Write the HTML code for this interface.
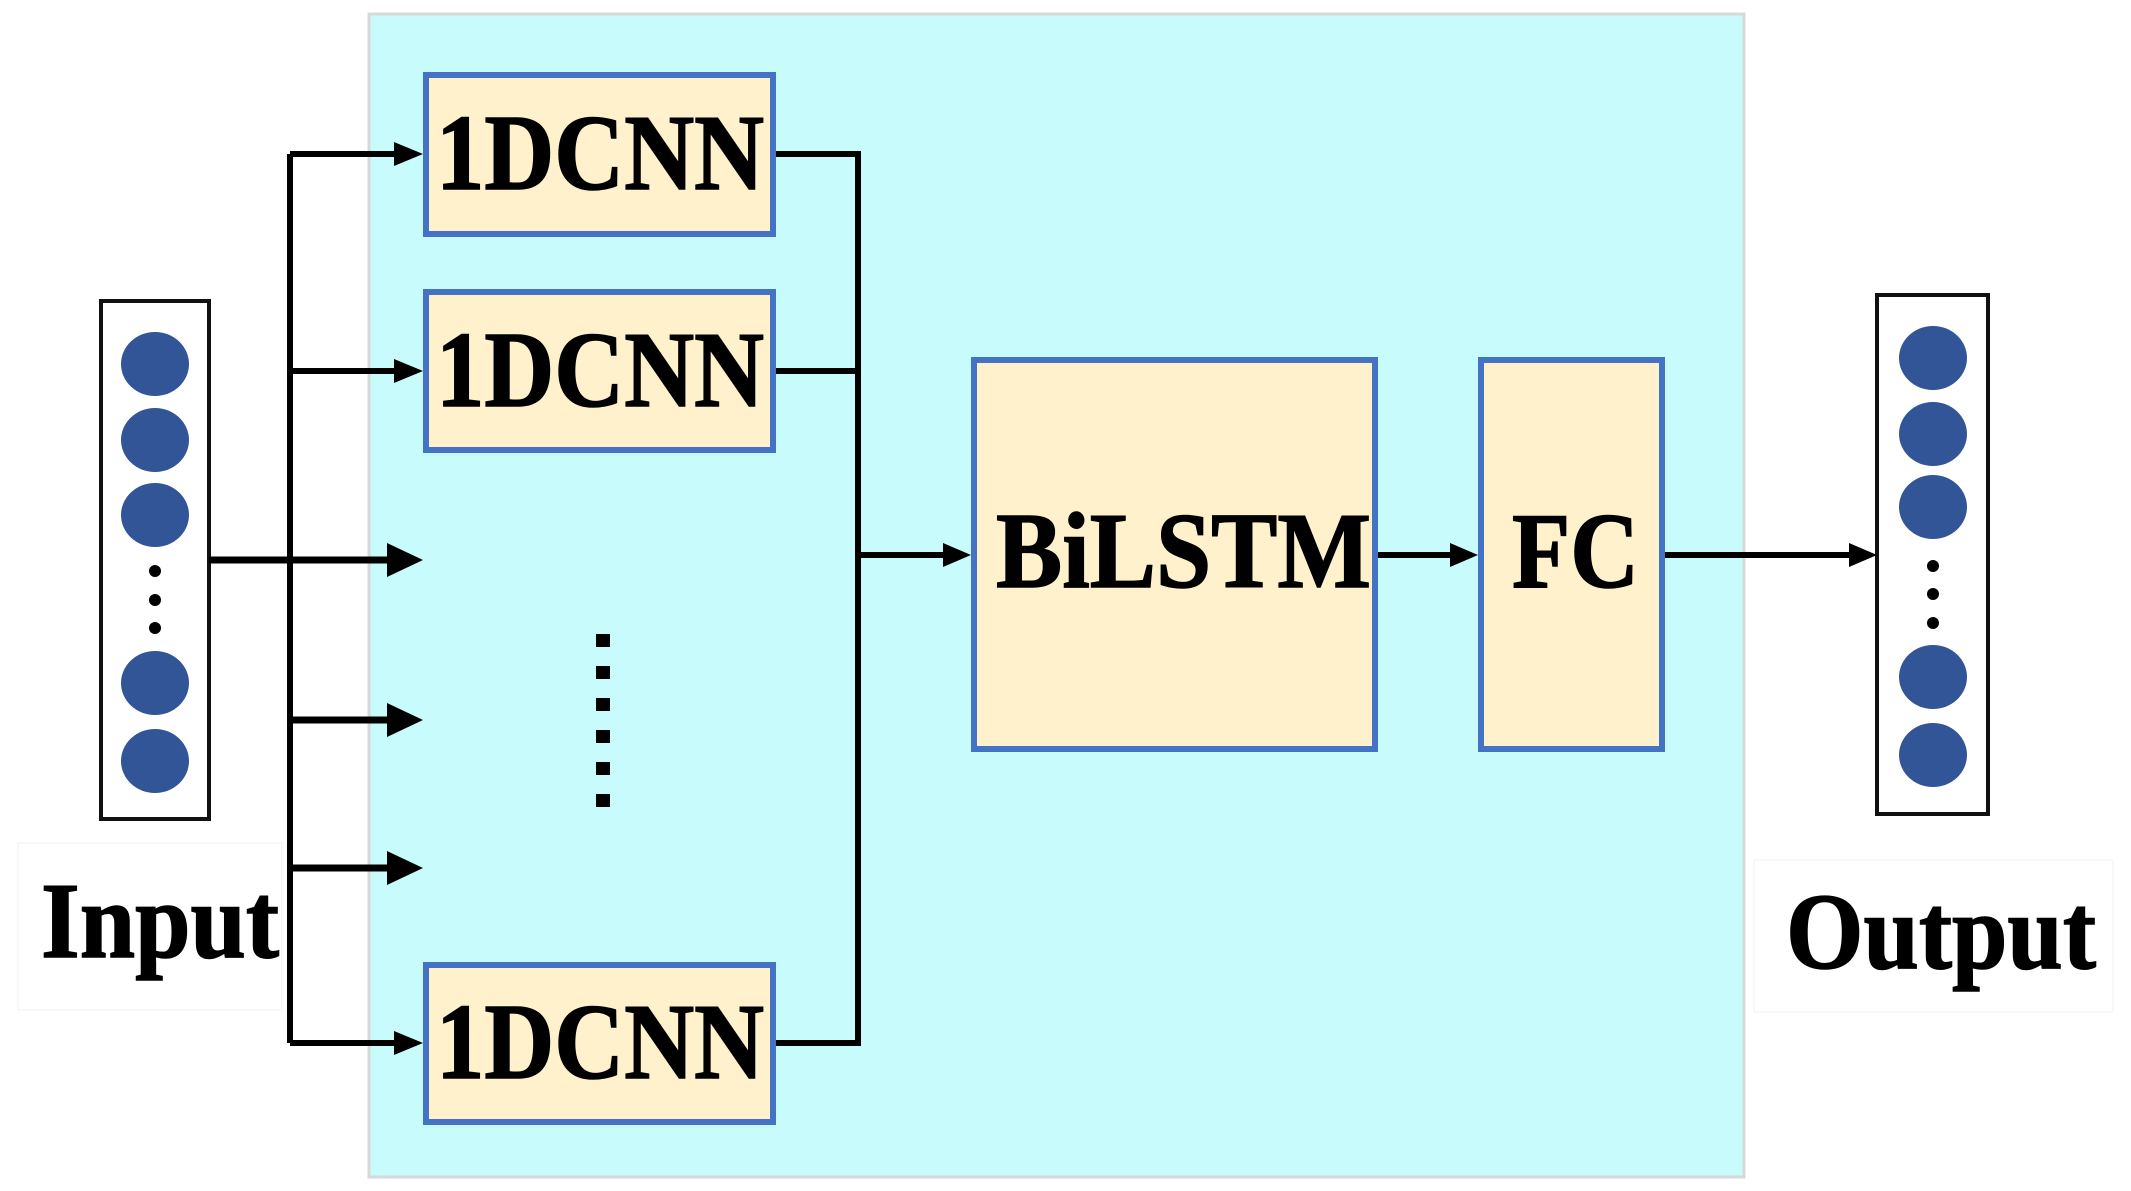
<!DOCTYPE html>
<html><head><meta charset="utf-8"><style>html,body{margin:0;padding:0;background:#fff}svg{display:block}</style></head>
<body>
<svg width="2131" height="1191" viewBox="0 0 2131 1191" xmlns="http://www.w3.org/2000/svg" font-family="Liberation Serif, serif" font-weight="bold">
<rect x="369" y="14" width="1375" height="1163" fill="#c8fcfc" stroke="#d8d8d8" stroke-width="3"/>
<rect x="18" y="843" width="264" height="167" fill="#fff" stroke="#f2f2f2"/>
<rect x="1754" y="860" width="359" height="152" fill="#fff" stroke="#f2f2f2"/>
<rect x="101" y="301" width="108" height="518" fill="#fff" stroke="#111" stroke-width="4"/>
<g fill="#325597">
<ellipse cx="155" cy="364" rx="34" ry="32"/><ellipse cx="155" cy="440" rx="34" ry="32"/><ellipse cx="155" cy="515" rx="34" ry="32"/>
<ellipse cx="155" cy="683" rx="34" ry="32"/><ellipse cx="155" cy="761" rx="34" ry="32"/>
<ellipse cx="1933" cy="358" rx="34" ry="32"/><ellipse cx="1933" cy="434" rx="34" ry="32"/><ellipse cx="1933" cy="507" rx="34" ry="32"/>
<ellipse cx="1933" cy="677" rx="34" ry="32"/><ellipse cx="1933" cy="755" rx="34" ry="32"/>
</g>
<g fill="#000"><circle cx="155" cy="571" r="6"/><circle cx="155" cy="600" r="6"/><circle cx="155" cy="628" r="6"/>
<circle cx="1933" cy="566" r="6"/><circle cx="1933" cy="594" r="6"/><circle cx="1933" cy="623" r="6"/></g>
<rect x="1877" y="295" width="111" height="519" fill="none" stroke="#111" stroke-width="4"/>
<g stroke="#000" stroke-width="6" fill="none">
<path d="M290 154 V1043"/>
<path d="M290 154 H400"/>
<path d="M290 371 H400"/>
<path d="M290 1043 H400"/>
<path d="M776 154 H858 V1043 H776"/>
<path d="M776 371 H858"/>
<path d="M858 555 H950"/>
<path d="M1378 555 H1458"/>
<path d="M1665 555 H1855"/>
</g>
<g stroke="#000" stroke-width="7">
<path d="M209 560 H395"/><path d="M290 720 H395"/><path d="M290 868 H395"/>
</g>
<g fill="#000">
<path d="M387 543 L423 560 L387 577z"/><path d="M387 703 L423 720 L387 737z"/><path d="M387 851 L423 868 L387 885z"/>
<path d="M394 142 L423 154 L394 166z"/><path d="M394 359 L423 371 L394 383z"/><path d="M394 1031 L423 1043 L394 1055z"/>
<path d="M943 543 L971 555 L943 567z"/><path d="M1450 543 L1478 555 L1450 567z"/><path d="M1849 543 L1877 555 L1849 567z"/>
</g>
<g fill="#000"><rect x="596" y="634" width="14" height="13"/><rect x="596" y="666" width="14" height="13"/><rect x="596" y="698" width="14" height="13"/><rect x="596" y="730" width="14" height="13"/><rect x="596" y="762" width="14" height="13"/><rect x="596" y="794" width="14" height="13"/></g>
<g fill="#fff1cc" stroke="#4472c4" stroke-width="6">
<rect x="426" y="75" width="347" height="159"/>
<rect x="426" y="292" width="347" height="158"/>
<rect x="426" y="965" width="347" height="157"/>
<rect x="974" y="360" width="401" height="389"/>
<rect x="1481" y="360" width="181" height="389"/>
</g>
<g fill="#000" stroke="#000" stroke-width="1.5" font-size="108">
<text x="436" y="189" textLength="328" lengthAdjust="spacingAndGlyphs">1DCNN</text>
<text x="436" y="406" textLength="328" lengthAdjust="spacingAndGlyphs">1DCNN</text>
<text x="436" y="1078" textLength="328" lengthAdjust="spacingAndGlyphs">1DCNN</text>
<text x="996" y="587" textLength="375" lengthAdjust="spacingAndGlyphs">BiLSTM</text>
<text x="1512" y="587" textLength="127" lengthAdjust="spacingAndGlyphs">FC</text>
<text x="41" y="957" textLength="238" lengthAdjust="spacingAndGlyphs">Input</text>
<text x="1786" y="968" textLength="310" lengthAdjust="spacingAndGlyphs">Output</text>
</g>
</svg>
</body></html>
